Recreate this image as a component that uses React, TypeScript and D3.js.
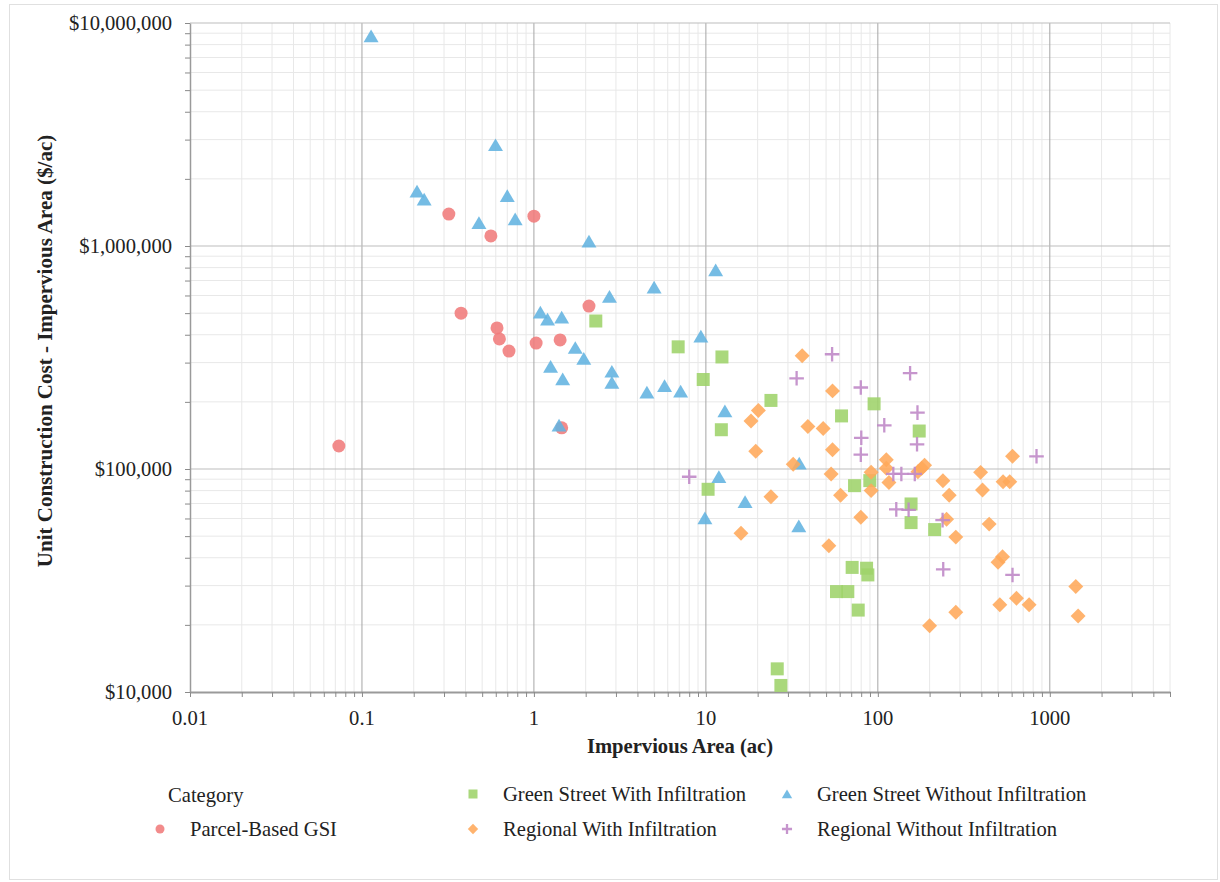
import * as d3 from 'd3';
import React, { useEffect, useRef } from 'react';

// impervious area (ac), unit cost ($/ac)
const parcelBased = [
  [0.0734, 126800], [0.32, 1390000], [0.562, 1110000], [1.0, 1360000], [0.377, 500000],
  [0.61, 429000], [0.63, 383000], [0.716, 338000], [1.03, 367000], [1.42, 379000],
  [2.09, 538000], [1.45, 153000],
];
const greenStreetWith = [
  [2.29, 461000], [6.9, 353000], [12.4, 318000], [9.65, 252000], [23.9, 203000],
  [12.3, 150000], [61.5, 173000], [95.1, 196000], [174, 148000], [10.3, 81100],
  [73.2, 84200], [89.8, 88700], [156, 69700], [156, 57500], [214, 53500],
  [70.9, 36200], [86.0, 35900], [87.5, 33500], [57.5, 28200], [66.9, 28200],
  [76.9, 23300], [26.0, 12700], [27.3, 10700],
];
const greenStreetWithout = [
  [0.113, 8740000], [0.598, 2840000], [0.209, 1760000], [0.23, 1620000], [0.479, 1270000],
  [0.70, 1680000], [0.778, 1320000], [2.09, 1050000], [11.4, 780000], [1.09, 504000],
  [1.2, 469000], [1.45, 479000], [2.75, 593000], [5.0, 653000], [1.74, 350000],
  [1.95, 313000], [1.25, 288000], [1.47, 253000], [2.84, 274000], [2.84, 244000],
  [4.54, 221000], [5.75, 236000], [7.13, 223000], [9.35, 394000], [12.9, 182000],
  [1.40, 157000], [34.9, 106000], [11.9, 92300], [9.87, 60300], [16.9, 71300],
  [34.7, 55500],
];
const regionalWith = [
  [36.3, 322000], [54.5, 224000], [20.2, 183000], [18.3, 164000], [39.2, 155000],
  [48.1, 152000], [54.5, 122000], [19.5, 120000], [32.2, 105000], [53.5, 95000],
  [112, 110000], [91.4, 96700], [112, 100700], [116, 86900], [91.4, 80000],
  [60.7, 76200], [79.6, 60700], [23.9, 75100], [16.0, 51500], [51.9, 45300],
  [180, 100700], [171, 97200], [187, 104000], [239, 88600], [260, 76200],
  [251, 59500], [284, 49500], [396, 96600], [406, 80500], [535, 87700],
  [585, 87700], [607, 114000], [444, 56600], [531, 40400], [500, 38200],
  [1416, 29700], [640, 26300], [512, 24600], [758, 24600], [284, 22800],
  [200, 19800], [1461, 21900],
];
const regionalWithout = [
  [54.2, 327000], [33.7, 255000], [79.6, 232000], [154, 269000], [170, 179000],
  [109, 157000], [80.1, 138000], [79.6, 116000], [169, 129000], [8.0, 92300],
  [123, 95000], [137, 95000], [164, 95000], [128, 65900], [151, 65600],
  [238, 59000], [837, 114000], [240, 35500], [607, 33500],
];

const xTicks = [0.01, 0.1, 1, 10, 100, 1000];
const xTickLabels = ['0.01', '0.1', '1', '10', '100', '1000'];
const yTicks = [10000, 100000, 1000000, 10000000];
const yTickLabels = ['$10,000', '$100,000', '$1,000,000', '$10,000,000'];

const seriesNames = [
  'Parcel-Based GSI',
  'Green Street With Infiltration',
  'Green Street Without Infiltration',
  'Regional With Infiltration',
  'Regional Without Infiltration',
];
const seriesData = [parcelBased, greenStreetWith, greenStreetWithout, regionalWith, regionalWithout];
const seriesColors = ['#f07b7b', '#9ed36a', '#62b3e0', '#ffa95a', '#c08ac8'];
const seriesShapes = ['circle', 'square', 'triangle', 'diamond', 'plus'];

const FONT = '"Liberation Serif", "Times New Roman", serif';
const FS = 20.6;

// returns a path string centred at 0,0
function markerPath(shape, s) {
  const h = s / 2;
  if (shape === 'circle') return d3.symbol(d3.symbolCircle, Math.PI * h * h)();
  if (shape === 'square') return `M${-h},${-h}H${h}V${h}H${-h}Z`;
  if (shape === 'triangle') return `M0,${-h * 1.0}L${h * 1.15},${h * 0.95}L${-h * 1.15},${h * 0.95}Z`;
  if (shape === 'diamond') return `M0,${-h * 1.15}L${h * 1.15},0L0,${h * 1.15}L${-h * 1.15},0Z`;
  return `M${-h * 1.12},0H${h * 1.12}M0,${-h * 1.12}V${h * 1.12}`;
}

function drawMarker(g, shape, color, size) {
  const p = g.append('path').attr('d', markerPath(shape, size));
  if (shape === 'plus') {
    p.attr('fill', 'none').attr('stroke', color).attr('stroke-width', 2.3).attr('opacity', 0.9);
  } else {
    p.attr('fill', color).attr('opacity', 0.88);
  }
}

export default function App() {
  const svgRef = useRef(null);

  useEffect(() => {
    const width = 1220, height = 882;
    const margin = { left: 190, right: 50, top: 23, bottom: 190 };
    const svg = d3.select(svgRef.current);
    svg.selectAll('*').remove();

    svg.append('rect').attr('x', 9.5).attr('y', 4.5).attr('width', 1208).attr('height', 875)
      .attr('fill', '#fff').attr('stroke', '#e0e0e0');

    const x = d3.scaleLog().domain([0.01, 5000]).range([margin.left, width - margin.right]);
    const y = d3.scaleLog().domain([10000, 10000000]).range([height - margin.bottom, margin.top]);

    // minor ticks 2..9 in every decade
    const xMinor = [];
    for (let e = -2; e <= 3; e++) for (let k = 2; k <= 9; k++) {
      const v = k * Math.pow(10, e);
      if (v <= 5000) xMinor.push(v);
    }
    const yMinor = [];
    for (let e = 4; e <= 6; e++) for (let k = 2; k <= 9; k++) yMinor.push(k * Math.pow(10, e));

    const grid = svg.append('g');
    grid.selectAll('.xmin').data(xMinor).join('line')
      .attr('x1', d => x(d)).attr('x2', d => x(d))
      .attr('y1', y.range()[0]).attr('y2', y.range()[1])
      .attr('stroke', '#e8e8e8').attr('stroke-width', 1);
    grid.selectAll('.ymin').data(yMinor).join('line')
      .attr('x1', x.range()[0]).attr('x2', x.range()[1])
      .attr('y1', d => y(d)).attr('y2', d => y(d))
      .attr('stroke', '#e8e8e8').attr('stroke-width', 1);
    grid.append('g').selectAll('line').data(xTicks.slice(1)).join('line')
      .attr('x1', d => x(d)).attr('x2', d => x(d))
      .attr('y1', y.range()[0]).attr('y2', y.range()[1])
      .attr('stroke', '#a6a6a6').attr('stroke-width', 1);
    grid.append('g').selectAll('line').data(yTicks.slice(1)).join('line')
      .attr('x1', x.range()[0]).attr('x2', x.range()[1])
      .attr('y1', d => y(d)).attr('y2', d => y(d))
      .attr('stroke', '#bdbdbd').attr('stroke-width', 1);

    // axes
    const xAxis = d3.axisBottom(x).tickValues([...xTicks, ...xMinor]).tickFormat(() => '').tickSize(5).tickSizeOuter(0);
    const gx = svg.append('g').attr('transform', `translate(0,${y.range()[0]})`).call(xAxis);
    gx.select('.domain').attr('stroke', '#9a9a9a').attr('stroke-width', 2);
    gx.selectAll('.tick line').attr('stroke', '#8a8a8a');

    const yAxis = d3.axisLeft(y).tickValues([...yTicks, ...yMinor]).tickFormat(() => '').tickSize(5).tickSizeOuter(0);
    const gy = svg.append('g').attr('transform', `translate(${x.range()[0]},0)`).call(yAxis);
    gy.select('.domain').attr('stroke', '#9a9a9a').attr('stroke-width', 1.5);
    gy.selectAll('.tick line').attr('stroke', '#8a8a8a');

    svg.append('g').selectAll('text').data(xTicks).join('text')
      .attr('x', d => x(d)).attr('y', y.range()[0] + 33)
      .attr('text-anchor', 'middle').attr('font-family', FONT).attr('font-size', FS)
      .attr('fill', '#222').text((d, i) => xTickLabels[i]);
    svg.append('g').selectAll('text').data(yTicks).join('text')
      .attr('x', x.range()[0] - 18).attr('y', d => y(d)).attr('dy', '0.33em')
      .attr('text-anchor', 'end').attr('font-family', FONT).attr('font-size', FS)
      .attr('fill', '#222').text((d, i) => yTickLabels[i]);

    svg.append('text').attr('x', 680).attr('y', 753).attr('text-anchor', 'middle')
      .attr('font-family', FONT).attr('font-size', FS).attr('font-weight', 'bold')
      .attr('fill', '#222').text('Impervious Area (ac)');
    svg.append('text').attr('transform', 'translate(52,351) rotate(-90)').attr('text-anchor', 'middle')
      .attr('font-family', FONT).attr('font-size', 21).attr('font-weight', 'bold')
      .attr('fill', '#222').text('Unit Construction Cost - Impervious Area ($/ac)');

    // points
    const plot = svg.append('g');
    seriesData.forEach((data, si) => {
      data.forEach(([vx, vy]) => {
        const g = plot.append('g').attr('transform', `translate(${x(vx)},${y(vy)})`);
        drawMarker(g, seriesShapes[si], seriesColors[si], 13);
      });
    });

    // legend
    const legend = svg.append('g').attr('font-family', FONT).attr('font-size', FS).attr('fill', '#222');
    legend.append('text').attr('x', 168).attr('y', 802).text('Category');
    const legendPos = [[160, 829], [473, 794], [787, 794], [473, 829], [787, 829]];
    seriesNames.forEach((name, i) => {
      const [lx, ly] = legendPos[i];
      const g = legend.append('g').attr('transform', `translate(${lx},${ly})`);
      drawMarker(g, seriesShapes[i], seriesColors[i], 9);
      legend.append('text').attr('x', lx + 30).attr('y', ly + 7).text(name);
    });
  }, []);

  return (
    <svg ref={svgRef} width={1220} height={882}
      style={{ position: 'absolute', left: 0, top: 0, background: '#fff' }} />
  );
}
